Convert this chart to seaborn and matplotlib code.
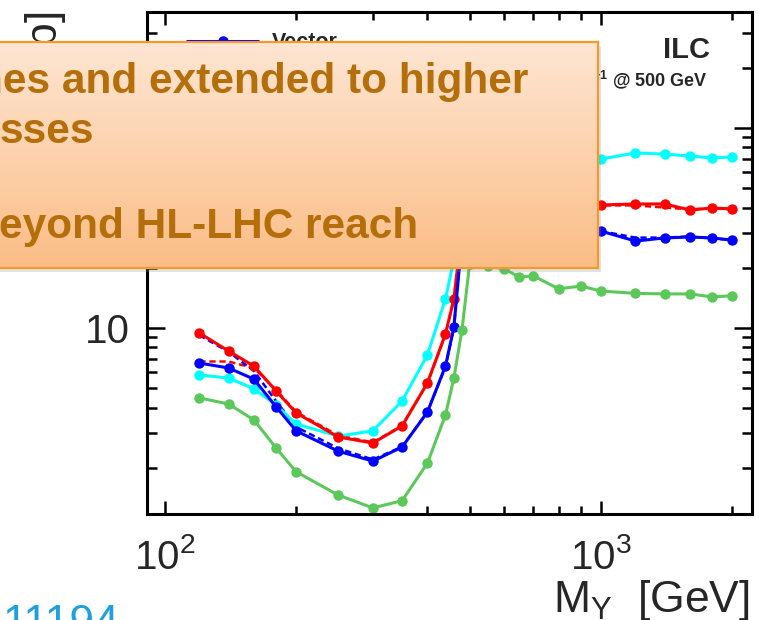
import matplotlib
matplotlib.use("Agg")

import numpy as np
import pandas as pd
import matplotlib.pyplot as plt
import seaborn as sns
from matplotlib.lines import Line2D
from matplotlib.patches import Rectangle
from matplotlib.ticker import FuncFormatter, LogLocator
from matplotlib.colors import LinearSegmentedColormap


sns.set_theme(style="ticks")
plt.rcParams["font.family"] = ["Liberation Sans", "DejaVu Sans"]
plt.rcParams["mathtext.fontset"] = "custom"
plt.rcParams["mathtext.rm"] = "Liberation Sans"
plt.rcParams["mathtext.it"] = "Liberation Sans:italic"
plt.rcParams["mathtext.bf"] = "Liberation Sans:bold"
plt.rcParams["mathtext.default"] = "regular"

# scan points in M_Y [GeV]
mass = [120, 140, 160, 180, 200, 250, 300, 350, 400, 440, 460, 480, 500,
        550, 600, 650, 700, 800, 900, 1000, 1200, 1400, 1600, 1800, 2000]

# cross-section limits [fb], solid curves
red = [9.44, 7.67, 6.45, 4.84, 3.76, 2.85, 2.66, 3.24, 5.31, 9.33, 13.96, 31, 45,
       44, 43, 42.5, 42, 42, 41.5, 41.2, 41.7, 41.7, 38.9, 39.8, 39.4]
blue = [6.68, 6.31, 5.55, 4.03, 3.06, 2.42, 2.16, 2.54, 3.8, 6.45, 10.1, 28, 33,
        32, 31.5, 31, 31, 30.8, 30.6, 30.5, 27.2, 28.2, 28.5, 28.2, 27.5]
cyan = [5.82, 5.62, 4.97, 4.12, 3.31, 2.88, 3.06, 4.32, 7.33, 13.96, 22, 40, 70,
        78, 76, 74, 73, 72, 71, 70, 75, 74, 72.4, 70.8, 71.6]
green = [4.47, 4.17, 3.47, 2.51, 1.91, 1.46, 1.26, 1.37, 2.11, 3.67, 5.62, 9.77, 21,
         20.5, 19.7, 18, 18.2, 15.7, 16.2, 15.3, 14.9, 14.8, 14.8, 14.3, 14.5]

# dashed variants
red_dash = [6.8, 6.8, 6.3, 4.9, 3.8, 2.9, 2.68, 3.25, 5.3, 9.3, 14, 31, 45,
            44, 43, 42.5, 42, 42, 41.5, 41.0, 41.0, 40.0, 39.2, 39.6, 39.2]
blue_dash = [9.2, 7.6, 6.1, 4.3, 3.2, 2.5, 2.2, 2.55, 3.8, 6.4, 10, 28, 33,
             32, 31.5, 31, 31, 30.8, 30.6, 30.5, 28.3, 28.3, 28.7, 28.0, 27.6]

colors = {"red": "#FF0000", "blue": "#0000FF", "cyan": "#00FFFF", "green": "#5CC85A"}

solid = pd.DataFrame({
    "mass": mass * 4,
    "xsec": cyan + red + blue + green,
    "model": ["cyan"] * len(mass) + ["red"] * len(mass) + ["blue"] * len(mass) + ["green"] * len(mass),
})
dashed = pd.DataFrame({
    "mass": mass * 2,
    "xsec": red_dash + blue_dash,
    "model": ["red"] * len(mass) + ["blue"] * len(mass),
})

W, H = 759, 620
fig = plt.figure(figsize=(W / 100, H / 100), dpi=100)
fig.patch.set_facecolor("white")

ax_l, ax_r, ax_t, ax_b = 147, 752, 12, 514
ax = fig.add_axes([ax_l / W, 1 - ax_b / H, (ax_r - ax_l) / W, (ax_b - ax_t) / H])
ax.set_facecolor("white")

sns.lineplot(data=dashed, x="mass", y="xsec", hue="model", palette=colors,
             estimator=None, sort=False, linewidth=1.8, linestyle=(0, (2.5, 1.5)),
             legend=False, ax=ax)
sns.lineplot(data=solid, x="mass", y="xsec", hue="model", palette=colors,
             estimator=None, sort=False, linewidth=2.2, marker="o", markersize=7.5,
             markeredgewidth=0, legend=False, ax=ax)

ax.set_xscale("log")
ax.set_yscale("log")
ax.set_xlim(91, 2220)
ax.set_ylim(1.175, 380)
ax.set_xlabel("")
ax.set_ylabel("")

ax.xaxis.set_major_locator(LogLocator(base=10, numticks=10))
ax.xaxis.set_minor_locator(LogLocator(base=10, subs=np.arange(2, 10), numticks=10))
ax.yaxis.set_major_locator(LogLocator(base=10, numticks=10))
ax.yaxis.set_minor_locator(LogLocator(base=10, subs=np.arange(2, 10), numticks=10))


def _fmt(v, pos):
    e = int(round(np.log10(v)))
    return "10" if e == 1 else f"$10^{{{e}}}$"


ax.xaxis.set_major_formatter(FuncFormatter(_fmt))
ax.yaxis.set_major_formatter(FuncFormatter(_fmt))
ax.xaxis.set_minor_formatter(FuncFormatter(lambda v, p: ""))
ax.yaxis.set_minor_formatter(FuncFormatter(lambda v, p: ""))

ax.tick_params(which="both", direction="in", top=True, right=True, width=1.8, color="black")
ax.tick_params(axis="x", which="major", length=9.5, pad=17.5, labelsize=29)
ax.tick_params(axis="x", which="minor", length=6)
ax.tick_params(axis="y", which="major", length=13, pad=12, labelsize=29)
ax.tick_params(axis="y", which="minor", length=7.2)
for s in ax.spines.values():
    s.set_linewidth(2.2)
    s.set_color("black")

leg_handle = Line2D([], [], color=colors["blue"], lw=2.2, marker="o", ms=7.5, mew=0)
ax.legend([leg_handle], ["Vector"], loc="center left",
          bbox_to_anchor=(187 / W, 1 - 43 / H), bbox_transform=fig.transFigure,
          frameon=False, borderpad=0, borderaxespad=0, handlelength=3.3,
          handletextpad=0.65, prop={"size": 15.5, "weight": "bold"})

# labels around the frame
fig.text(710 / W, 1 - 58 / H, "ILC", ha="right", va="baseline",
         fontsize=21, fontweight="bold", zorder=3)
fig.text(708 / W, 1 - 86 / H, r"500 fb$^{-1}$ @ 500 GeV", ha="right", va="baseline",
         fontsize=13, fontweight="bold", zorder=3)
fig.text(45 / W, 1 - 12 / H, r"$\sigma$ [fb]", rotation=90, ha="center", va="top",
         fontsize=32, zorder=3)
fig.text(750 / W, 1 - 612 / H, r"M$_{Y}$  [GeV]", ha="right", va="baseline",
         fontsize=32, zorder=3)
fig.text(3 / W, 1 - 636 / H, "11194", ha="left", va="baseline",
         fontsize=32, color="#1E9FE0", zorder=3)

# orange call-out box over the plot
box_l, box_r, box_t, box_b = -6, 598, 42, 268
fig.patches.append(Rectangle((box_l / W, 1 - (box_b + 4) / H), (box_r - box_l + 3) / W,
                             (box_b - box_t) / H, transform=fig.transFigure,
                             facecolor="#888888", alpha=0.25, edgecolor="none", zorder=9))
bax = fig.add_axes([box_l / W, 1 - box_b / H, (box_r - box_l) / W, (box_b - box_t) / H], zorder=10)
grad = np.linspace(0, 1, 256)[:, None]
cmap = LinearSegmentedColormap.from_list("box", ["#FEE6D3", "#FBBD86"])
bax.imshow(grad, aspect="auto", cmap=cmap, extent=[0, 1, 0, 1], origin="upper")
bax.set_xticks([])
bax.set_yticks([])
for s in bax.spines.values():
    s.set_color("#F39A2A")
    s.set_linewidth(1.6)

box_color = "#B46E0A"
fig.text(528 / W, 1 - 93 / H, "nes and extended to higher", ha="right", va="baseline",
         fontsize=30.5, fontweight="bold", color=box_color, zorder=11)
fig.text(0, 1 - 143 / H, "sses", ha="left", va="baseline",
         fontsize=30.5, fontweight="bold", color=box_color, zorder=11)
fig.text(418 / W, 1 - 238 / H, "eyond HL-LHC reach", ha="right", va="baseline",
         fontsize=30.5, fontweight="bold", color=box_color, zorder=11)

fig.savefig("out.png", dpi=100)
plt.close(fig)
